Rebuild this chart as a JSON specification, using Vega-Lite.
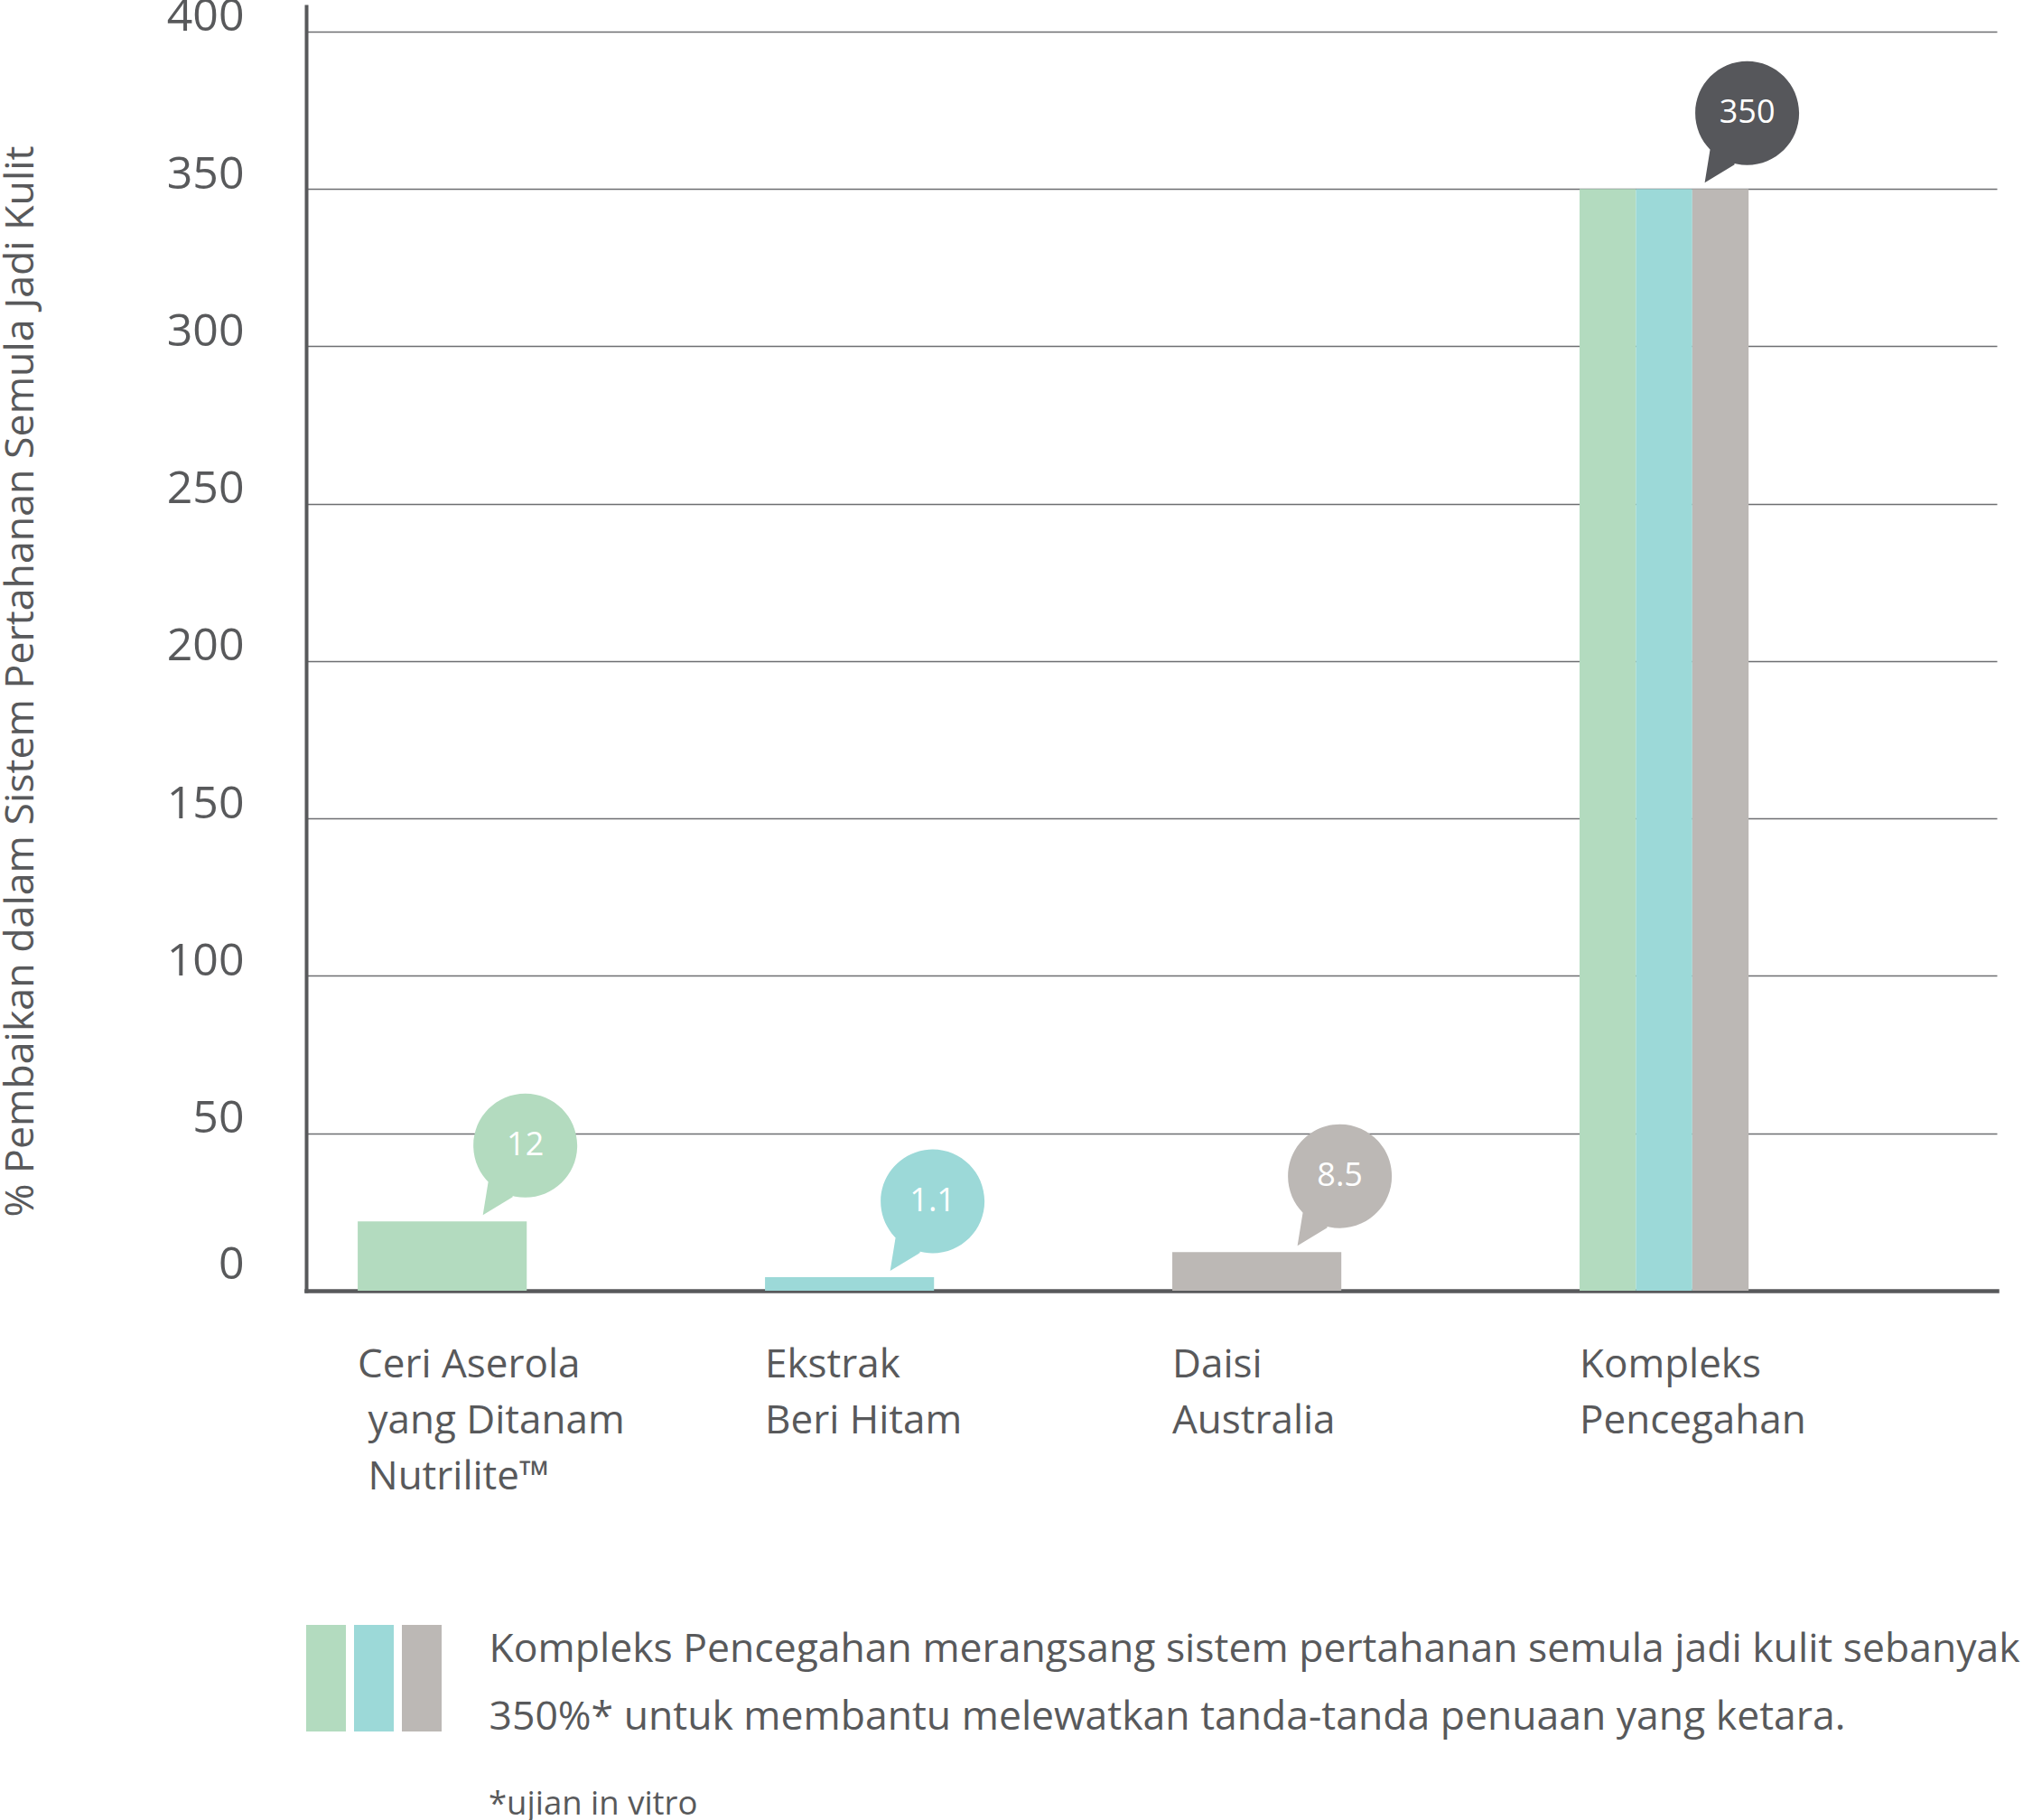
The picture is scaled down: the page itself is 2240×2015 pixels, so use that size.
{
  "$schema": "https://vega.github.io/schema/vega-lite/v6.json",
  "background": "white",
  "padding": {"left": 0, "top": -7, "right": 0, "bottom": 0},
  "config": {"font": "Open Sans", "view": {"stroke": null}},
  "datasets": {
    "produk": [
      {"produk": "Ceri Aserola\n\u200b\u00a0yang Ditanam\n\u200b\u00a0Nutrilite™", "bahan": "Ceri Aserola", "nilai": 22, "label": "12"},
      {"produk": "Ekstrak\nBeri Hitam", "bahan": "Ekstrak Beri Hitam", "nilai": 4.3, "label": "1.1"},
      {"produk": "Daisi\nAustralia", "bahan": "Daisi Australia", "nilai": 12.3, "label": "8.5"},
      {"produk": "Kompleks\nPencegahan", "bahan": "Ceri Aserola", "nilai": 350, "label": "350"},
      {"produk": "Kompleks\nPencegahan", "bahan": "Ekstrak Beri Hitam", "nilai": 350, "label": "350"},
      {"produk": "Kompleks\nPencegahan", "bahan": "Daisi Australia", "nilai": 350, "label": "350"}
    ]
  },
  "bounds": "flush",
  "spacing": 370,
  "vconcat": [
    {
      "width": 1872,
      "height": 1422,
      "data": {"name": "produk"},
      "encoding": {
        "x": {
          "field": "produk",
          "type": "nominal",
          "sort": null,
          "scale": {
            "domain": ["Ceri Aserola\n\u200b\u00a0yang Ditanam\n\u200b\u00a0Nutrilite™", "Ekstrak\nBeri Hitam", "Daisi\nAustralia", "Kompleks\nPencegahan"],
            "paddingInner": 0.585,
            "paddingOuter": 0.368,
            "align": 0.172
          },
          "axis": {
            "title": null,
            "orient": "bottom",
            "domain": true,
            "domainColor": "#58595b",
            "domainWidth": 4.5,
            "domainCap": "square",
            "ticks": false,
            "tickSize": 0,
            "grid": false,
            "labelAngle": 0,
            "labelAlign": "left",
            "labelBaseline": "alphabetic",
            "labelPadding": 95,
            "labelOffset": -93.6,
            "labelFontSize": 44,
            "labelColor": "#58595b",
            "labelLineHeight": 62,
            "labelLimit": 1000,
            "labelOverlap": false,
            "labelBound": false,
            "labelFlush": false,
            "labelExpr": "split(datum.value, '\\n')"
          }
        },
        "y": {
          "field": "nilai",
          "type": "quantitative",
          "scale": {"domain": [0, 408], "nice": false},
          "axis": {
            "orient": "left",
            "values": [0, 50, 100, 150, 200, 250, 300, 350, 400],
            "format": "d",
            "title": "% Pembaikan dalam Sistem Pertahanan Semula Jadi Kulit",
            "titleFontSize": 44.7,
            "titleFontWeight": "normal",
            "titleColor": "#58595b",
            "titleAngle": 270,
            "titleAlign": "center",
            "titleBaseline": "alphabetic",
            "titleX": -303,
            "titleY": 747,
            "domainColor": "#58595b",
            "domainWidth": 4,
            "domainCap": "square",
            "ticks": false,
            "tickSize": 0,
            "labelFontSize": 50,
            "labelColor": "#58595b",
            "labelPadding": 69,
            "labelBaseline": "middle",
            "labelOffset": {"condition": {"test": "datum.value === 0", "value": -29}, "value": -16},
            "labelOverlap": false,
            "labelFlush": false,
            "labelBound": false,
            "grid": true,
            "gridColor": "#6d6e71",
            "gridWidth": 1.3
          }
        }
      },
      "layer": [
        {
          "transform": [{"filter": "indexof(datum.produk, 'Kompleks') < 0"}],
          "mark": {"type": "bar"},
          "encoding": {
            "color": {
              "field": "bahan",
              "type": "nominal",
              "scale": {"domain": ["Ceri Aserola", "Ekstrak Beri Hitam", "Daisi Australia"], "range": ["#b3dbbf", "#9cd9d8", "#bcb8b5"]},
              "legend": null
            }
          }
        },
        {
          "transform": [{"filter": "indexof(datum.produk, 'Kompleks') >= 0"}],
          "mark": {"type": "bar"},
          "encoding": {
            "xOffset": {
              "field": "bahan",
              "type": "nominal",
              "sort": null,
              "scale": {"domain": ["Ceri Aserola", "Ekstrak Beri Hitam", "Daisi Australia"], "paddingInner": 0, "paddingOuter": 0}
            },
            "color": {
              "field": "bahan",
              "type": "nominal",
              "scale": {"domain": ["Ceri Aserola", "Ekstrak Beri Hitam", "Daisi Australia"], "range": ["#b3dbbf", "#9cd9d8", "#bcb8b5"]},
              "legend": null
            }
          }
        },
        {
          "transform": [{"aggregate": [{"op": "max", "field": "nilai", "as": "nilai"}], "groupby": ["produk", "label"]}],
          "mark": {
            "type": "point",
            "shape": "M0.92,-1.415C1.2376,-1.415,1.495,-1.1576,1.495,-0.84C1.495,-0.5224,1.2376,-0.265,0.92,-0.265C0.6024,-0.265,0.345,-0.5224,0.345,-0.84C0.345,-1.1576,0.6024,-1.415,0.92,-1.415ZM0.45,-0.07L0.51,-0.44L0.75,-0.6L0.78,-0.27Z",
            "size": 40000,
            "filled": true,
            "opacity": 1,
            "strokeWidth": 0
          },
          "encoding": {
            "fill": {
              "field": "produk",
              "type": "nominal",
              "scale": {
                "domain": ["Ceri Aserola\n\u200b\u00a0yang Ditanam\n\u200b\u00a0Nutrilite™", "Ekstrak\nBeri Hitam", "Daisi\nAustralia", "Kompleks\nPencegahan"],
                "range": ["#b3dbbf", "#9cd9d8", "#bcb8b5", "#56575b"]
              },
              "legend": null
            }
          }
        },
        {
          "transform": [{"aggregate": [{"op": "max", "field": "nilai", "as": "nilai"}], "groupby": ["produk", "label"]}],
          "mark": {"type": "text", "dx": 92, "dy": -84, "align": "center", "baseline": "middle", "fontSize": 36, "color": "#ffffff"},
          "encoding": {"text": {"field": "label", "type": "nominal"}}
        }
      ]
    },
    {
      "width": 150,
      "height": 118,
      "data": {"name": "produk"},
      "transform": [{"filter": "indexof(datum.produk, 'Kompleks') >= 0"}],
      "title": {
        "text": "*ujian in vitro",
        "orient": "bottom",
        "anchor": "start",
        "frame": "group",
        "align": "left",
        "baseline": "alphabetic",
        "offset": 86,
        "dx": 202,
        "fontSize": 36.5,
        "fontWeight": "normal",
        "color": "#58595b"
      },
      "mark": {"type": "bar"},
      "encoding": {
        "x": {
          "field": "bahan",
          "type": "nominal",
          "sort": null,
          "scale": {"domain": ["Ceri Aserola", "Ekstrak Beri Hitam", "Daisi Australia"], "paddingInner": 0.17, "paddingOuter": 0},
          "axis": {
            "orient": "top",
            "labels": false,
            "ticks": false,
            "domain": false,
            "grid": false,
            "title": ["Kompleks Pencegahan merangsang sistem pertahanan semula jadi kulit sebanyak", "350%* untuk membantu melewatkan tanda-tanda penuaan yang ketara."],
            "titleX": 202,
            "titleY": 40,
            "titleAlign": "left",
            "titleAnchor": "start",
            "titleBaseline": "alphabetic",
            "titleLineHeight": 75,
            "titleLimit": 3000,
            "titleFontSize": 44.5,
            "titleFontWeight": "normal",
            "titleColor": "#58595b"
          }
        },
        "color": {
          "field": "bahan",
          "type": "nominal",
          "scale": {"domain": ["Ceri Aserola", "Ekstrak Beri Hitam", "Daisi Australia"], "range": ["#b3dbbf", "#9cd9d8", "#bcb8b5"]},
          "legend": null
        }
      }
    }
  ]
}
